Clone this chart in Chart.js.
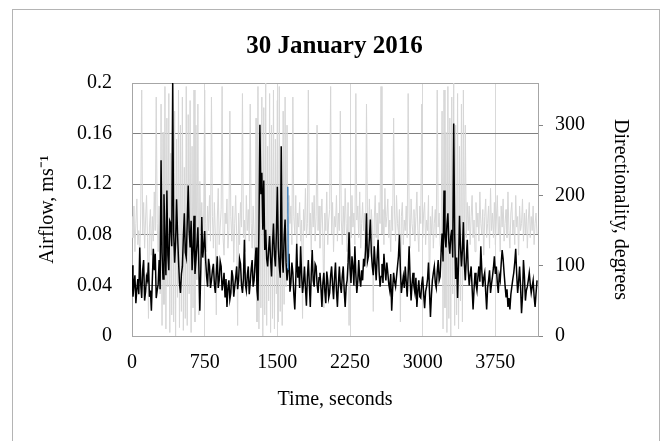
<!DOCTYPE html>
<html>
<head>
<meta charset="utf-8">
<script src="https://cdn.jsdelivr.net/npm/chart.js@4.4.0/dist/chart.umd.min.js"></script>
<style>
  html, body { margin: 0; padding: 0; background: #fff; }
  #wrap { position: relative; width: 669px; height: 441px; }
</style>
</head>
<body>
<div id="wrap"><canvas id="airflow"></canvas></div>
<script>
// readings every 10 s, starting at t = 0
const SAMPLE_STEP = 10;

// airflow, m/s
const airflow = [
  0.056, 0.031, 0.040, 0.048, 0.026, 0.037, 0.045, 0.033, 0.070, 0.041, 0.030, 0.052,
  0.060, 0.028, 0.035, 0.047, 0.044, 0.058, 0.031, 0.036, 0.020, 0.045, 0.069, 0.052,
  0.065, 0.030, 0.036, 0.041, 0.060, 0.037, 0.139, 0.066, 0.045, 0.112, 0.075, 0.048,
  0.115, 0.064, 0.052, 0.091, 0.089, 0.071, 0.200, 0.082, 0.058, 0.074, 0.108, 0.081,
  0.060, 0.042, 0.034, 0.049, 0.055, 0.078, 0.097, 0.066, 0.062, 0.090, 0.119, 0.083,
  0.070, 0.091, 0.052, 0.067, 0.095, 0.049, 0.060, 0.072, 0.086, 0.055, 0.020, 0.052,
  0.094, 0.062, 0.071, 0.083, 0.060, 0.047, 0.039, 0.061, 0.055, 0.038, 0.044, 0.052,
  0.057, 0.041, 0.034, 0.049, 0.063, 0.038, 0.044, 0.059, 0.055, 0.036, 0.042, 0.050,
  0.031, 0.045, 0.023, 0.038, 0.044, 0.029, 0.034, 0.052, 0.047, 0.031, 0.039, 0.046,
  0.055, 0.037, 0.044, 0.061, 0.057, 0.040, 0.034, 0.045, 0.076, 0.041, 0.036, 0.048,
  0.055, 0.033, 0.042, 0.053, 0.060, 0.039, 0.044, 0.058, 0.070, 0.036, 0.028, 0.085,
  0.167, 0.112, 0.129, 0.084, 0.123, 0.068, 0.084, 0.061, 0.055, 0.068,
  0.079, 0.061, 0.047, 0.072, 0.089, 0.064, 0.055, 0.081, 0.118, 0.070, 0.055, 0.046,
  0.150, 0.062, 0.050, 0.078, 0.092, 0.058, 0.044, 0.053, 0.065, 0.035, 0.042, 0.058,
  0.050, 0.033, 0.021, 0.044, 0.073, 0.046, 0.055, 0.038, 0.071, 0.049, 0.034, 0.042,
  0.055, 0.038, 0.024, 0.047, 0.060, 0.041, 0.023, 0.049, 0.068, 0.044, 0.039, 0.057,
  0.055, 0.041, 0.034, 0.046, 0.050, 0.038, 0.023, 0.042, 0.050, 0.035, 0.026, 0.051,
  0.044, 0.030, 0.034, 0.048, 0.055, 0.040, 0.029, 0.046, 0.058, 0.036,
  0.023, 0.041, 0.055, 0.040, 0.034, 0.047, 0.055, 0.036, 0.023, 0.039, 0.044, 0.058,
  0.082, 0.054, 0.042, 0.063, 0.055, 0.040, 0.071, 0.049, 0.034, 0.043, 0.060, 0.045,
  0.039, 0.052, 0.044, 0.061, 0.055, 0.068, 0.097, 0.059, 0.063, 0.078, 0.092, 0.066,
  0.055, 0.048, 0.071, 0.057, 0.044, 0.062, 0.076, 0.051, 0.039, 0.047, 0.057, 0.042,
  0.065, 0.053, 0.044, 0.058, 0.050, 0.041, 0.036, 0.049, 0.020, 0.037, 0.050, 0.043,
  0.039, 0.047, 0.055, 0.063, 0.080, 0.052, 0.034, 0.041, 0.047, 0.038,
  0.055, 0.043, 0.031, 0.049, 0.071, 0.046, 0.028, 0.041, 0.050, 0.039, 0.034, 0.046,
  0.023, 0.036, 0.044, 0.031, 0.030, 0.041, 0.047, 0.033, 0.022, 0.035, 0.039, 0.045,
  0.058, 0.036, 0.015, 0.032, 0.044, 0.050, 0.055, 0.042, 0.038, 0.051, 0.060, 0.044,
  0.047, 0.066, 0.081, 0.059, 0.115, 0.078, 0.070, 0.088, 0.097, 0.074, 0.065, 0.079,
  0.084, 0.062, 0.168, 0.081, 0.045, 0.062, 0.030, 0.058, 0.095, 0.071, 0.055, 0.068,
  0.090, 0.057, 0.044, 0.061, 0.076, 0.052, 0.040, 0.049, 0.055, 0.038,
  0.021, 0.037, 0.050, 0.041, 0.036, 0.047, 0.055, 0.043, 0.071, 0.052, 0.039, 0.046,
  0.050, 0.035, 0.021, 0.038, 0.044, 0.052, 0.034, 0.041, 0.047, 0.054, 0.063, 0.049,
  0.055, 0.042, 0.034, 0.048, 0.044, 0.057, 0.068, 0.061, 0.050, 0.040, 0.031, 0.037,
  0.023, 0.030, 0.021, 0.033, 0.039, 0.045, 0.050, 0.058, 0.069, 0.049, 0.034, 0.043,
  0.055, 0.039, 0.018, 0.031, 0.060, 0.047, 0.028, 0.036, 0.039, 0.044, 0.050, 0.041,
  0.034, 0.039, 0.044, 0.031, 0.023, 0.034, 0.044
];

// directionality, degrees
const direction = [
  170, 140, 185, 120, 160, 195, 130, 150, 110, 175,
  350, 145, 190, 125, 165, 200, 140, 25, 155, 180,
  115, 170, 135, 205, 150, 340, 160, 120, 185, 60,
  330, 15, 290, 45, 355, 10, 310, 70, 345, 5,
  260, 30, 360, 20, 320, 0, 280, 55, 350, 12,
  300, 35, 340, 8, 240, 25, 355, 15, 315, 60,
  335, 5, 270, 40, 350, 20, 300, 80, 330, 30,
  220, 150, 190,
  140, 175, 350, 160, 120, 185, 150, 200, 135, 340,
  170, 125, 190, 145, 30, 165, 210, 130, 155, 180,
  355, 140, 115, 175, 160, 195, 125, 150, 320, 170,
  135, 185, 105, 160, 200, 145, 15, 175, 130, 190,
  155, 345, 140, 165, 120, 200, 150, 180, 135, 330,
  160, 125, 185, 145, 90,
  310, 20, 355, 10, 290, 40, 340, 0, 325, 30,
  360, 15, 270, 50, 345, 5, 300, 25, 350, 10,
  280, 60, 335, 20, 355, 35, 250, 15, 320, 45,
  340, 70, 300, 100, 200,
  160, 185, 130, 340, 170, 145, 200, 120, 175, 155,
  190, 135, 165, 25, 180, 150, 210, 140, 160, 350,
  145, 175, 120, 190, 155, 200, 135, 170, 300, 150,
  185, 125, 160, 195, 140, 40, 175, 150, 205, 130,
  165, 180, 355, 145, 190, 120, 170, 155, 200, 135,
  175, 150, 320, 165, 130, 185, 145, 210, 160, 120,
  190, 15, 170, 140, 200, 155, 175, 130, 345, 165,
  185, 140, 205, 125, 160, 190, 150, 175, 110, 330,
  170, 145, 195, 135, 180, 155, 35, 165, 200, 140,
  175, 125, 190, 160, 355, 145, 180, 130, 210, 155,
  170, 195, 140, 165, 120, 185, 150, 310, 175, 135,
  200, 160, 145, 180, 20, 170, 190, 130, 165, 150,
  185, 140, 345, 175, 125, 195, 160, 145, 180, 135,
  170, 205, 150, 120, 185, 160, 330, 140, 175, 190,
  130, 165, 150, 200, 45, 170, 145, 185, 125, 160,
  180, 140, 350, 155, 175, 130, 120,
  320, 10, 350, 40, 290, 5, 355, 25, 310, 0,
  340, 60, 360, 15, 300, 30, 345, 10, 270, 50,
  330, 20, 350, 80, 300, 140, 190,
  150, 185, 130, 170, 200, 140, 165, 120, 190, 155,
  175, 135, 205, 160, 145, 180, 115, 170, 195, 140,
  160, 185, 125, 210, 150, 175, 140, 190, 130, 165,
  200, 145, 170, 120, 185, 155, 195, 135, 160, 180,
  140, 205, 150, 125, 175, 190, 145, 165, 130, 200,
  155, 170, 115, 185, 150, 160, 195, 135, 175, 145,
  180, 125, 165, 190, 140, 170, 150, 185, 130, 160,
  175, 145
];

// short blue trace near 1610 s
const blueTimes = [1608, 1612];
const blueFlow = [0.118, 0.052];

const xTicks = [0, 750, 1500, 2250, 3000, 3750];
const flowTicks = [0, 0.04, 0.08, 0.12, 0.16, 0.2];
const dirTicks = [0, 100, 200, 300];

const serif = "'Liberation Serif', 'Times New Roman', serif";

const toPoints = (arr) => arr.map((v, i) => ({ x: i * SAMPLE_STEP, y: v }));

const frame = {
  id: 'frame',
  beforeDraw(chart) {
    const ctx = chart.ctx;
    ctx.save();
    ctx.fillStyle = '#fff';
    ctx.fillRect(0, 0, chart.width, chart.height);
    ctx.restore();
  },
  beforeDatasetsDraw(chart) {
    const { ctx, chartArea: a } = chart;
    ctx.save();
    ctx.strokeStyle = '#a6a6a6';
    ctx.lineWidth = 1;
    ctx.strokeRect(Math.round(a.left) + 0.5, Math.round(a.top) + 0.5,
      Math.round(a.right - a.left), Math.round(a.bottom - a.top));
    ctx.restore();
  },
  afterDraw(chart) {
    const ctx = chart.ctx;
    ctx.save();
    ctx.strokeStyle = '#b4b4b4';
    ctx.lineWidth = 1;
    ctx.strokeRect(12.5, 9.5, 647, 460);
    ctx.restore();
  }
};

new Chart(document.getElementById('airflow'), {
  type: 'line',
  data: {
    datasets: [
      {
        label: 'blue',
        data: blueTimes.map((t, i) => ({ x: t, y: blueFlow[i] })),
        borderColor: '#2e75b6',
        borderWidth: 1.3,
        yAxisID: 'y'
      },
      {
        label: 'Airflow',
        data: toPoints(airflow),
        borderColor: '#000',
        borderWidth: 1.5,
        yAxisID: 'y'
      },
      {
        label: 'Directionality',
        data: toPoints(direction),
        borderColor: '#d6d6d6',
        borderWidth: 1,
        yAxisID: 'y2'
      }
    ]
  },
  options: {
    responsive: true,
    maintainAspectRatio: false,
    animation: false,
    layout: { padding: 0 },
    elements: { point: { radius: 0 }, line: { tension: 0 } },
    plugins: {
      legend: { display: false },
      tooltip: { enabled: false },
      title: {
        display: true,
        text: '30 January 2016',
        color: '#000',
        font: { family: serif, size: 25, weight: 'bold' },
        padding: { top: 32, bottom: 21 }
      }
    },
    scales: {
      x: {
        type: 'linear',
        min: 0,
        max: 4190,
        afterFit: (s) => { s.height = 105; },
        afterBuildTicks: (s) => { s.ticks = xTicks.map(v => ({ value: v })); },
        ticks: {
          color: '#000', font: { family: serif, size: 20 }, padding: 15, maxRotation: 0,
          callback: (v) => String(v)
        },
        grid: { color: '#d9d9d9', drawTicks: false },
        border: { display: false },
        title: {
          display: true, text: 'Time, seconds', color: '#000',
          font: { family: serif, size: 20 }, padding: { bottom: 29 }
        }
      },
      y: {
        position: 'left',
        min: 0,
        max: 0.2,
        afterFit: (s) => { s.width = 132; },
        afterBuildTicks: (s) => { s.ticks = flowTicks.map(v => ({ value: v })); },
        ticks: {
          color: '#000', font: { family: serif, size: 20 }, padding: 20,
          callback: (v) => String(parseFloat(v.toFixed(2)))
        },
        grid: { color: '#808080', drawTicks: false },
        border: { display: false },
        title: {
          display: true, text: 'Airflow, ms\u207B\u00B9', color: '#000',
          font: { family: serif, size: 20 }, padding: { top: 36 }
        }
      },
      y2: {
        position: 'right',
        min: 0,
        max: 360,
        afterFit: (s) => { s.width = 131; },
        afterBuildTicks: (s) => { s.ticks = dirTicks.map(v => ({ value: v })); },
        ticks: { color: '#000', font: { family: serif, size: 20 }, padding: 12 },
        grid: { drawOnChartArea: false, drawTicks: true, tickLength: 5, color: '#868686' },
        border: { display: false },
        title: {
          display: true, text: 'Directionality, degrees', color: '#000',
          font: { family: serif, size: 20 }, padding: { top: 37 }
        }
      }
    }
  },
  plugins: [frame]
});
</script>
</body>
</html>
